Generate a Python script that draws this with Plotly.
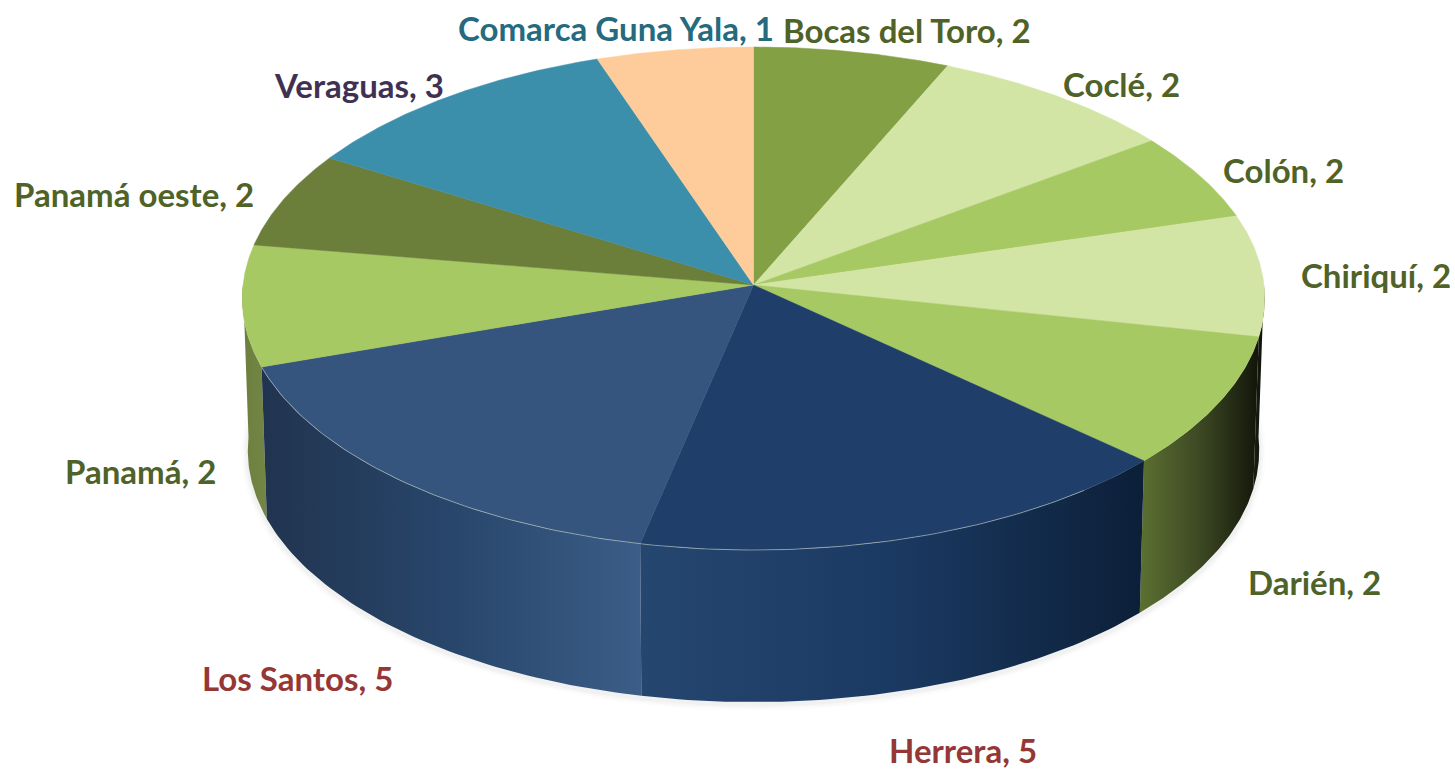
import numpy as np
import plotly.graph_objects as go

# Data
categories = ["Bocas del Toro", "Coclé", "Colón", "Chiriquí", "Darién", "Herrera",
              "Los Santos", "Panamá", "Panamá oeste", "Veraguas", "Comarca Guna Yala"]
values = [1.83, 2.34, 1.57, 2.18, 2.39, 4.64, 4.60, 2.18, 1.72, 3.10, 1.46]
top_colors = ["#84a045", "#d3e5a5", "#a7c964", "#d3e5a5", "#a7c964", "#1f3e69",
              "#35557f", "#a7c964", "#6b7f3a", "#3b8fab", "#fecc9a"]
label_colors = ["#4f6228", "#4f6228", "#4f6228", "#4f6228", "#4f6228", "#953735",
                "#953735", "#4f6228", "#4f6228", "#403152", "#256a7e"]

# Wall shading (left -> right), only for the walls that face the viewer
wall_shades = {
    "Chiriquí": ["#1a1e0e", "#0e100a"],
    "Darién": ["#5c7031", "#3d4923", "#12150a"],
    "Herrera": ["#25466f", "#1b3a63", "#0c1f38"],
    "Los Santos": ["#21344f", "#28466b", "#3b5d87"],
    "Panamá": ["#6c7f3f", "#738644"],
}

# Projection of the tilted disc
CX, CY, CY_BASE = 753.5, 285.0, 437.0
RX, RY, RX_BASE, K = 510.5, 250.8, 505.0, 0.0537
FONT = "Lato, Carlito, sans-serif"
LABEL_XY = [(907, 30), (1121, 84), (1283, 170), (1376, 275), (1314, 582), (963, 750),
            (297, 678), (140, 471), (134, 194), (359, 85), (616, 28)]


def ring(theta, cy=CY, rx=RX):
    u, v = np.sin(theta), np.cos(theta)
    s = 1.0 / (1.0 + K * v)
    return CX + rx * u * s, cy - RY * v * s


edges = np.radians(np.cumsum([0.0] + values) / sum(values) * 360.0)
fig = go.Figure()

# Soft shadow under the disc
full = np.linspace(np.pi * 0.45, np.pi * 1.55, 200)
for width, alpha in [(14, 0.012), (9, 0.018), (5, 0.025)]:
    bx, by = ring(full, CY_BASE + 2, RX_BASE)
    fig.add_trace(go.Scatter(x=bx, y=by, mode="lines", hoverinfo="skip",
                             line=dict(color=f"rgba(0,0,0,{alpha})", width=width)))

# Walls, clipped to the half of the rim that faces the viewer
for i in [7, 3, 4, 6, 5]:
    name = categories[i]
    th = np.linspace(max(edges[i], np.pi / 2), min(edges[i + 1], np.pi * 1.5), 60)
    tx, ty = ring(th)
    bx, by = ring(th, CY_BASE, RX_BASE)
    shades = wall_shades[name]
    scale = [[j / (len(shades) - 1), c] for j, c in enumerate(shades)]
    fig.add_trace(go.Scatter(
        x=np.r_[tx, bx[::-1], tx[0]], y=np.r_[ty, by[::-1], ty[0]],
        mode="lines", fill="toself", line=dict(width=0), hoverinfo="skip",
        fillgradient=dict(type="horizontal", colorscale=scale)))

# Top faces
for i, name in enumerate(categories):
    th = np.linspace(edges[i], edges[i + 1], 80)
    tx, ty = ring(th)
    fig.add_trace(go.Scatter(
        x=np.r_[CX, tx, CX], y=np.r_[CY, ty, CY], mode="lines", fill="toself",
        fillcolor=top_colors[i], line=dict(width=0.5, color=top_colors[i]),
        name=name, hoverinfo="name"))

# Thin rim highlight on the front slices
th = np.linspace(edges[5] + 0.16, edges[7], 120)
tx, ty = ring(th)
fig.add_trace(go.Scatter(x=tx, y=ty, mode="lines", hoverinfo="skip",
                         line=dict(color="rgba(200,215,200,0.55)", width=1)))

# Labels
for i, name in enumerate(categories):
    fig.add_annotation(x=LABEL_XY[i][0], y=LABEL_XY[i][1], text=f"{name}, {round(values[i])}",
                       showarrow=False, xref="x", yref="y",
                       font=dict(family=FONT, size=33, color=label_colors[i], weight="bold"))

fig.update_layout(
    width=1455, height=770, autosize=False, showlegend=False,
    margin=dict(l=0, r=0, t=0, b=0), paper_bgcolor="white", plot_bgcolor="white",
    xaxis=dict(range=[0, 1455], visible=False, fixedrange=True),
    yaxis=dict(range=[770, 0], visible=False, fixedrange=True),
)
fig.write_html("out.html", config=dict(displayModeBar=False),
               post_script="document.body.style.margin='0';document.body.style.overflow='hidden';")
